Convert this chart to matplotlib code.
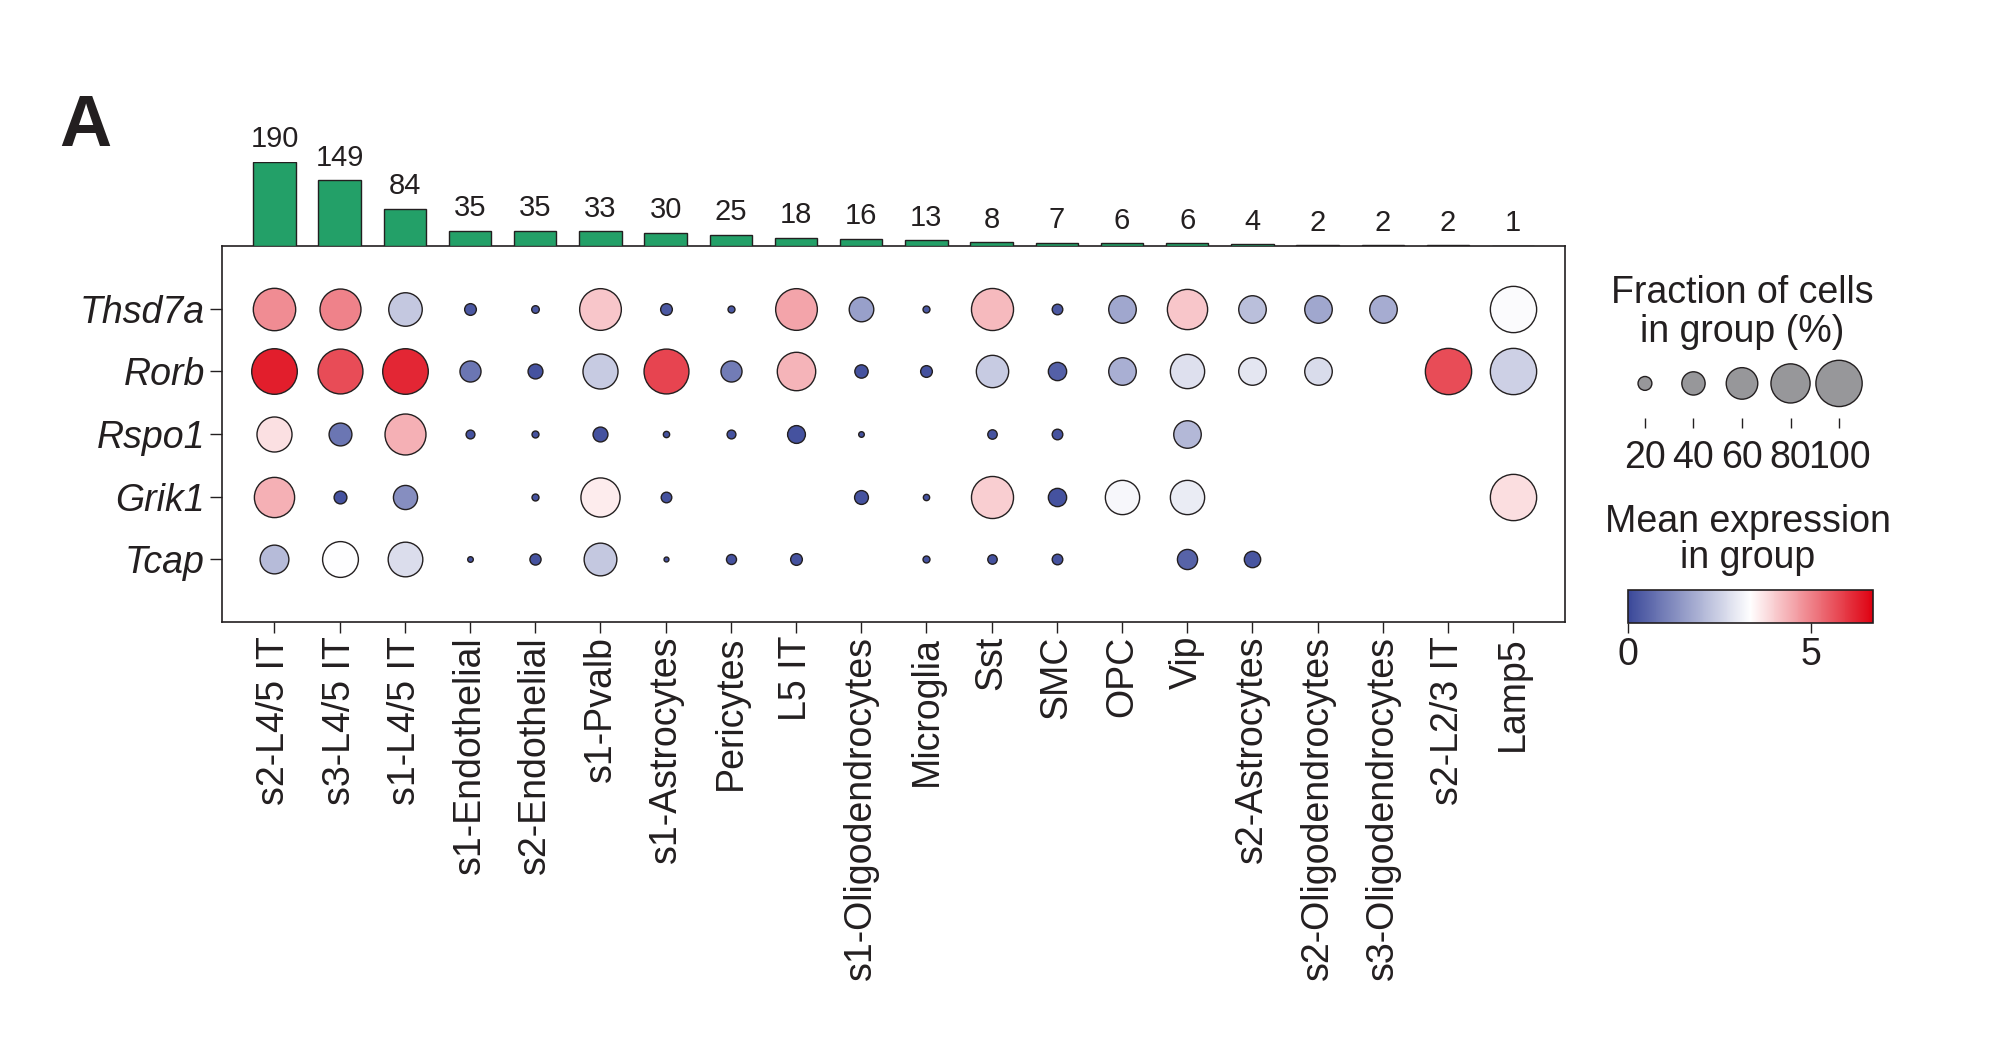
import numpy as np
import matplotlib
matplotlib.use("Agg")
import matplotlib.pyplot as plt
from matplotlib.colors import LinearSegmentedColormap, Normalize
from matplotlib.cm import ScalarMappable

plt.rcParams['font.family'] = ['Liberation Sans', 'DejaVu Sans']
plt.rcParams['text.color'] = '#231f20'
plt.rcParams['axes.edgecolor'] = '#231f20'
plt.rcParams['xtick.color'] = '#231f20'
plt.rcParams['ytick.color'] = '#231f20'

# ---- data ----
cell_types = ["s2-L4/5 IT", "s3-L4/5 IT", "s1-L4/5 IT", "s1-Endothelial", "s2-Endothelial",
              "s1-Pvalb", "s1-Astrocytes", "Pericytes", "L5 IT", "s1-Oligodendrocytes",
              "Microglia", "Sst", "SMC", "OPC", "Vip", "s2-Astrocytes",
              "s2-Oligodendrocytes", "s3-Oligodendrocytes", "s2-L2/3 IT", "Lamp5"]
cell_counts = [190, 149, 84, 35, 35, 33, 30, 25, 18, 16, 13, 8, 7, 6, 6, 4, 2, 2, 2, 1]
genes = ["Thsd7a", "Rorb", "Rspo1", "Grik1", "Tcap"]

# fraction of cells expressing (%), 0 = no dot
frac_thsd7a = [89, 85, 65, 16, 9, 87, 16, 8, 87, 43, 8, 88, 14, 50, 83, 50, 50, 50, 0, 100]
frac_rorb   = [98, 96, 98, 35, 22, 69, 96, 35, 78, 19, 16, 62, 29, 50, 67, 50, 50, 0, 100, 100]
frac_rspo1  = [69, 39, 85, 11, 8, 22, 7, 11, 28, 6, 0, 12, 14, 0, 50, 0, 0, 0, 0, 0]
frac_grik1  = [83, 18, 42, 0, 8, 80, 14, 0, 0, 20, 7, 88, 29, 67, 67, 0, 0, 0, 0, 100]
frac_tcap   = [53, 71, 68, 6, 15, 63, 5, 13, 16, 0, 8, 12, 14, 0, 33, 25, 0, 0, 0, 0]

# mean expression in group
expr_thsd7a = [4.85, 5.0, 2.35, 0.3, 0.3, 4.1, 0.3, 0.3, 4.55, 1.6, 0.3, 4.25, 0.3, 1.75, 4.1, 2.2, 1.75, 1.85, 0, 3.3]
expr_rorb   = [6.3, 5.7, 6.2, 0.85, 0.2, 2.4, 5.8, 0.95, 4.35, 0.2, 0.2, 2.4, 0.45, 1.9, 2.8, 2.9, 2.7, 0, 5.7, 2.5]
expr_rspo1  = [3.75, 0.85, 4.4, 0.2, 0.2, 0.2, 0.2, 0.2, 0.2, 0.2, 0, 0.2, 0.2, 0, 2.05, 0, 0, 0, 0, 0]
expr_grik1  = [4.4, 0.2, 1.3, 0, 0.2, 3.6, 0.2, 0, 0, 0.2, 0.2, 4.0, 0.2, 3.2, 3.0, 0, 0, 0, 0, 3.8]
expr_tcap   = [2.1, 3.35, 2.75, 0.2, 0.2, 2.35, 0.2, 0.2, 0.2, 0, 0.2, 0.2, 0.2, 0, 0.5, 0.25, 0, 0, 0, 0]

legend_fracs = [20, 40, 60, 80, 100]
cbar_ticks = [0, 5]

frac = np.array([frac_thsd7a, frac_rorb, frac_rspo1, frac_grik1, frac_tcap], dtype=float)
expr = np.array([expr_thsd7a, expr_rorb, expr_rspo1, expr_grik1, expr_tcap], dtype=float)

# ---- style ----
W, H = 1992, 1041
FS = 27
vmax = 6.71
s_max = 1110
cmap = LinearSegmentedColormap.from_list("bwr_custom", ["#3a4899", "#ffffff", "#de0010"])
norm = Normalize(vmin=0, vmax=vmax)


def fx(px):
    return px / W


def fy(px):
    return 1 - px / H


def box(left, top, right, bottom):
    # pixel box (origin top-left) -> figure fraction rect
    return [fx(left), fy(bottom), fx(right) - fx(left), fy(top) - fy(bottom)]


def dot_size(f):
    return (np.asarray(f) / 100.0) ** 1.5 * s_max


fig = plt.figure(figsize=(W / 100, H / 100), dpi=100)

# main dot plot
ax = fig.add_axes(box(222.3, 246, 1565.3, 622))
n_genes, n_types = frac.shape
for g in range(n_genes):
    for c in range(n_types):
        if frac[g, c] <= 0:
            continue
        ax.scatter(c, g, s=dot_size(frac[g, c]), color=cmap(norm(expr[g, c])),
                   edgecolors='#231f20', linewidths=1.0, zorder=3)
ax.set_xlim(-0.8, n_types - 1 + 0.8)
ax.set_ylim(5.0, -1.0)
ax.set_xticks(range(n_types))
ax.set_xticklabels(cell_types, rotation=90, fontsize=FS)
ax.set_yticks(range(n_genes))
ax.set_yticklabels(genes, fontsize=FS, style='italic')
ax.tick_params(axis='x', length=8, width=1.0, pad=2)
ax.tick_params(axis='y', length=8.5, width=1.0, pad=4)
for sp in ax.spines.values():
    sp.set_linewidth(1.2)

# bar chart of cell numbers on top
axb = fig.add_axes(box(222.3, 162, 1565.3, 246), sharex=ax)
axb.bar(range(n_types), cell_counts, width=0.65, color='#23a068', edgecolor='#231f20', linewidth=1.0)
for i, cnt in enumerate(cell_counts):
    axb.annotate(str(cnt), (i, cnt), xytext=(0, 10.5), textcoords='offset points',
                 ha='center', va='baseline', fontsize=21)
axb.set_ylim(0, max(cell_counts))
axb.axis('off')

# panel letter
fig.text(fx(59), fy(145.7), "A", fontsize=52, fontweight='bold', ha='left', va='baseline')

# size legend
cx = 1742
fig.text(fx(cx), fy(303), "Fraction of cells", fontsize=FS, ha='center', va='baseline')
fig.text(fx(cx), fy(342), "in group (%)", fontsize=FS, ha='center', va='baseline')
axs = fig.add_axes(box(1620.7, 352, 1863.3, 418))
axs.scatter(range(len(legend_fracs)), [0] * len(legend_fracs), s=dot_size(legend_fracs),
            color='#97979a', edgecolors='#231f20', linewidths=1.0, clip_on=False)
axs.set_xlim(-0.5, len(legend_fracs) - 0.5)
axs.set_ylim(-0.55, 0.5)
axs.set_xticks(range(len(legend_fracs)))
axs.set_xticklabels([str(v) for v in legend_fracs], fontsize=FS)
axs.set_yticks([])
axs.tick_params(axis='x', length=7.5, width=1.0, pad=8)
for sp in axs.spines.values():
    sp.set_visible(False)

# colour bar
fig.text(fx(1748), fy(532), "Mean expression", fontsize=FS, ha='center', va='baseline')
fig.text(fx(1748), fy(568), "in group", fontsize=FS, ha='center', va='baseline')
cax = fig.add_axes(box(1627.7, 590, 1873.3, 622.7))
cb = fig.colorbar(ScalarMappable(norm=norm, cmap=cmap), cax=cax, orientation='horizontal')
cb.set_ticks(cbar_ticks)
cb.ax.tick_params(labelsize=FS, length=7.5, width=1.0, pad=3)
cb.outline.set_linewidth(1.2)

fig.savefig("out.png", dpi=100)
